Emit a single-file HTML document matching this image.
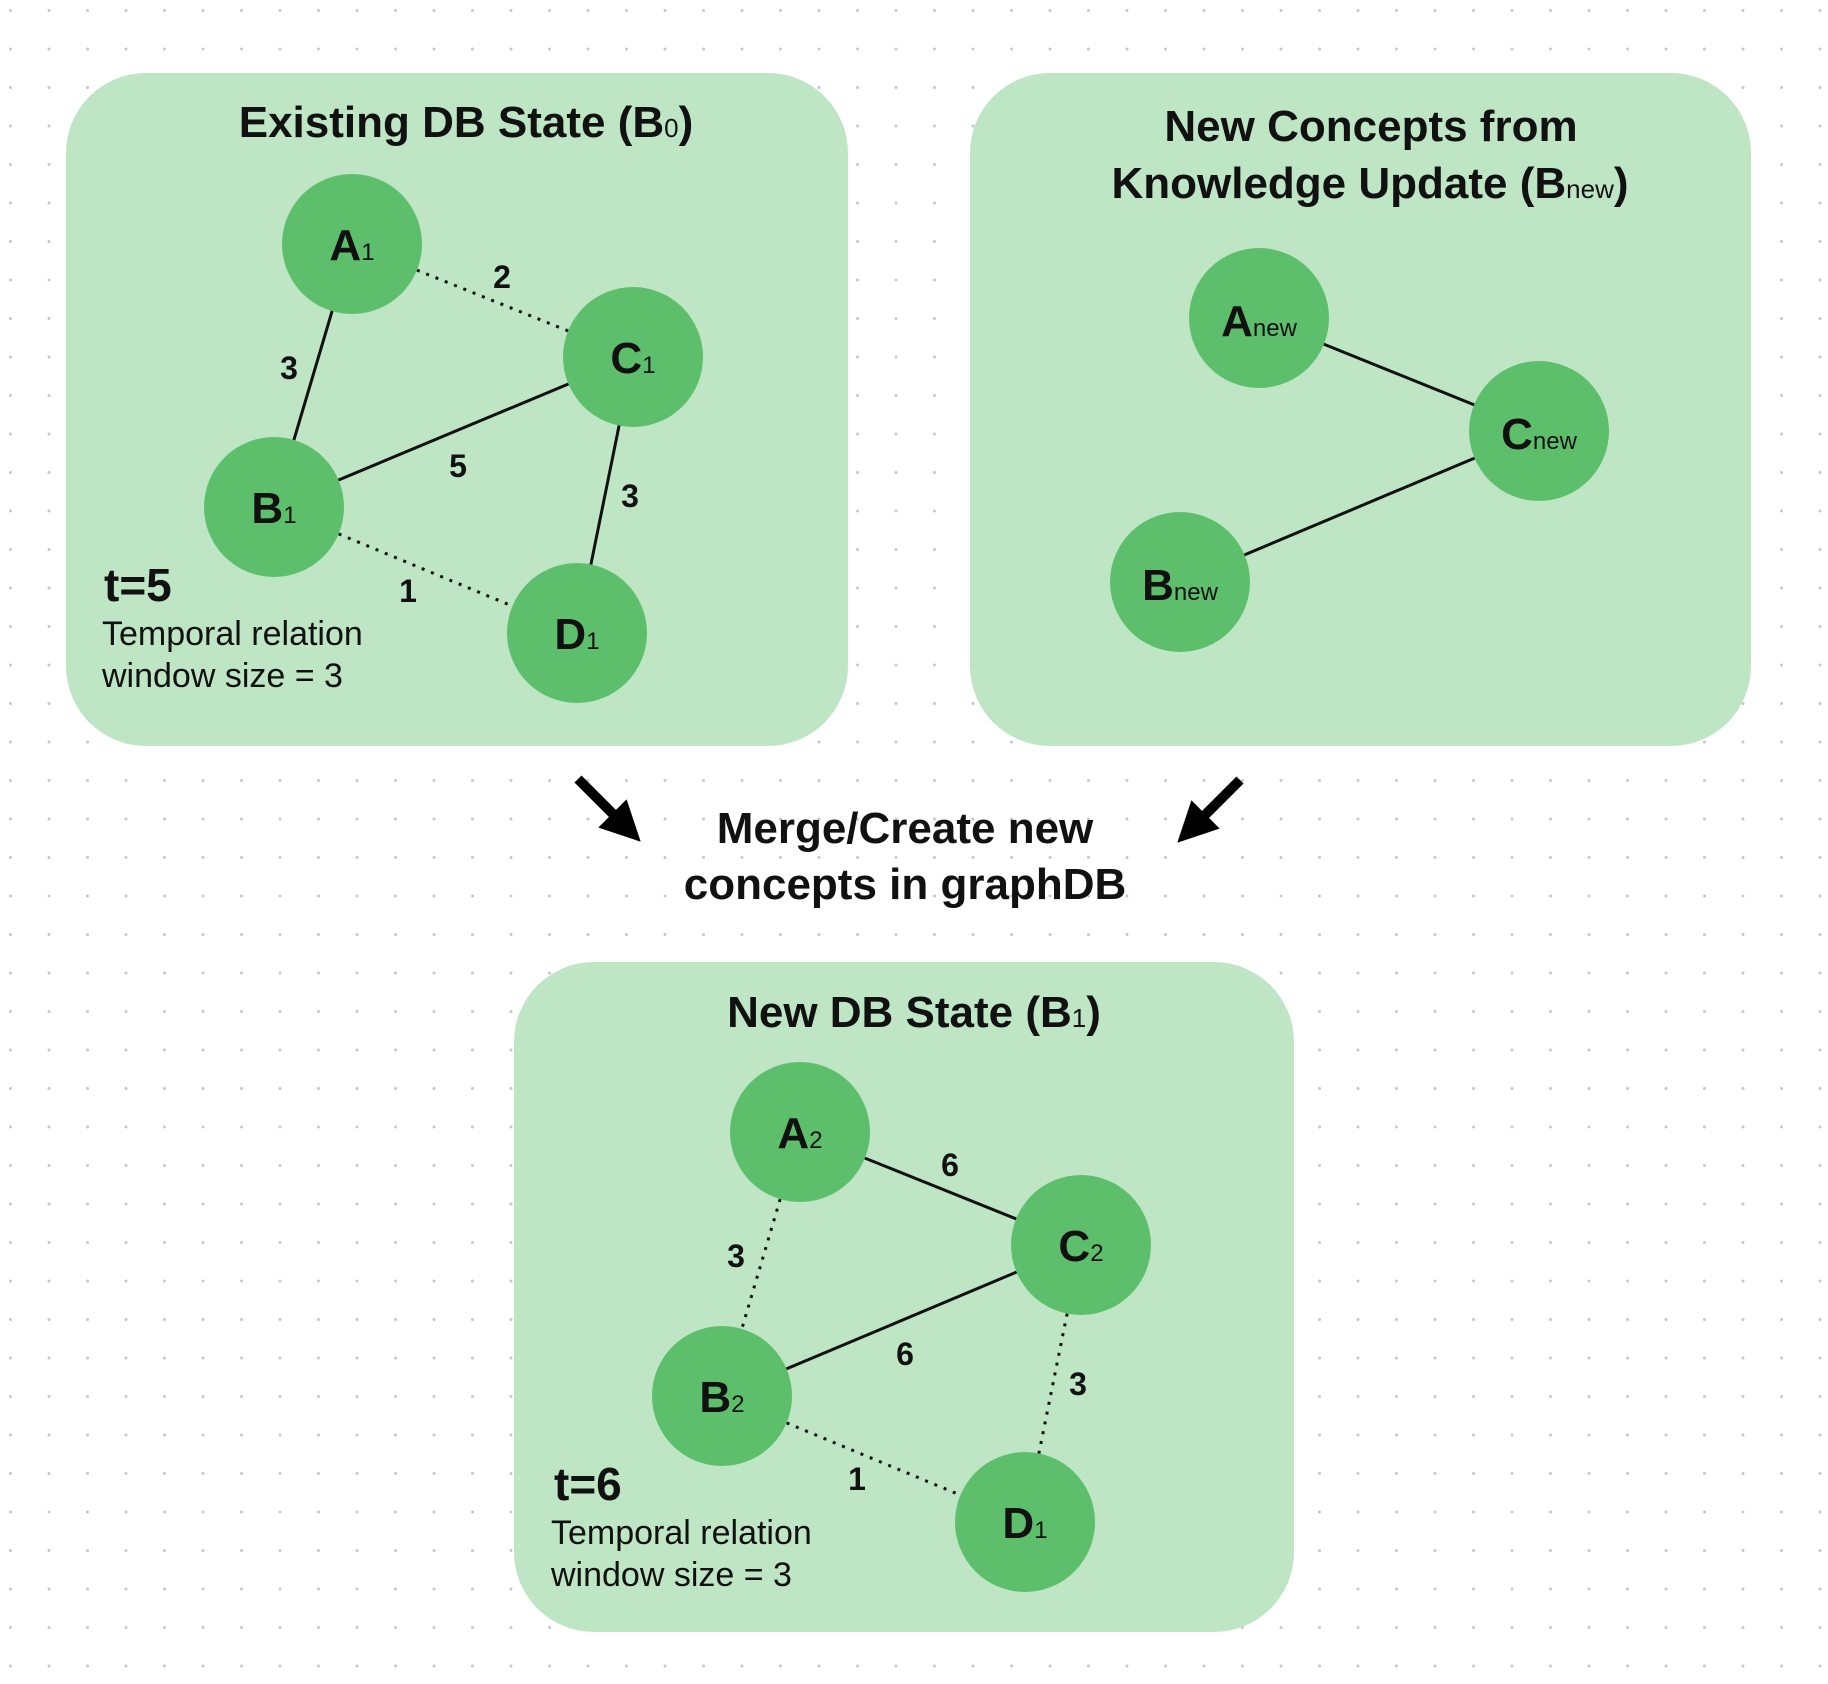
<!DOCTYPE html>
<html><head><meta charset="utf-8"><style>
html,body{margin:0;padding:0;background:#fff}
svg{display:block}
text{font-family:"Liberation Sans",Arial,sans-serif;fill:#111}
.t{font-weight:bold}
.n{font-weight:bold;font-size:44px}
.s{font-weight:normal;font-size:24px}
.e{font-weight:bold;font-size:32px}
.r{font-size:34px}
</style></head><body>
<svg width="1828" height="1684" viewBox="0 0 1828 1684" xmlns="http://www.w3.org/2000/svg">
<defs>
<pattern id="dots" x="9" y="9" width="38.5" height="38.5" patternUnits="userSpaceOnUse">
<circle cx="1.5" cy="1.5" r="1.5" fill="#c8c8c8"/>
</pattern>
<marker id="ah" markerWidth="4" markerHeight="4" refX="2.2" refY="2" orient="auto" markerUnits="strokeWidth">
<path d="M0,0 L4,2 L0,4 z" fill="#000"/>
</marker>
</defs>
<rect width="1828" height="1684" fill="#fff"/>
<rect width="1828" height="1684" fill="url(#dots)"/>
<!-- panels -->
<rect x="66" y="73" width="782" height="673" rx="80" fill="#b9e4c0" fill-opacity="0.93"/>
<rect x="970" y="73" width="781" height="673" rx="80" fill="#b9e4c0" fill-opacity="0.93"/>
<rect x="514" y="962" width="780" height="670" rx="80" fill="#b9e4c0" fill-opacity="0.93"/>

<!-- panel 1 edges -->
<g stroke="#111" stroke-width="3" fill="none">
<line x1="352" y1="244" x2="274" y2="507"/>
<line x1="274" y1="507" x2="633" y2="357"/>
<line x1="633" y1="357" x2="577" y2="633"/>
<line x1="352" y1="244" x2="633" y2="357" stroke-dasharray="3 7"/>
<line x1="274" y1="507" x2="577" y2="633" stroke-dasharray="3 7"/>
<!-- panel 2 -->
<line x1="1259" y1="318" x2="1539" y2="431"/>
<line x1="1180" y1="582" x2="1539" y2="431"/>
<!-- panel 3 -->
<line x1="800" y1="1132" x2="1081" y2="1245"/>
<line x1="722" y1="1396" x2="1081" y2="1245"/>
<line x1="800" y1="1132" x2="722" y2="1396" stroke-dasharray="3 7"/>
<line x1="1081" y1="1245" x2="1025" y2="1522" stroke-dasharray="3 7"/>
<line x1="722" y1="1396" x2="1025" y2="1522" stroke-dasharray="3 7"/>
</g>

<!-- nodes -->
<g fill="#5dbf6b">
<circle cx="352" cy="244" r="70"/>
<circle cx="633" cy="357" r="70"/>
<circle cx="274" cy="507" r="70"/>
<circle cx="577" cy="633" r="70"/>
<circle cx="1259" cy="318" r="70"/>
<circle cx="1539" cy="431" r="70"/>
<circle cx="1180" cy="582" r="70"/>
<circle cx="800" cy="1132" r="70"/>
<circle cx="1081" cy="1245" r="70"/>
<circle cx="722" cy="1396" r="70"/>
<circle cx="1025" cy="1522" r="70"/>
</g>

<!-- node labels -->
<g class="n" text-anchor="middle">
<text x="352" y="260" class="n">A<tspan class="s">1</tspan></text>
<text x="633" y="373" class="n">C<tspan class="s">1</tspan></text>
<text x="274" y="523" class="n">B<tspan class="s">1</tspan></text>
<text x="577" y="649" class="n">D<tspan class="s">1</tspan></text>
<text x="1259" y="336" class="n">A<tspan class="s">new</tspan></text>
<text x="1539" y="449" class="n">C<tspan class="s">new</tspan></text>
<text x="1180" y="600" class="n">B<tspan class="s">new</tspan></text>
<text x="800" y="1148" class="n">A<tspan class="s">2</tspan></text>
<text x="1081" y="1261" class="n">C<tspan class="s">2</tspan></text>
<text x="722" y="1412" class="n">B<tspan class="s">2</tspan></text>
<text x="1025" y="1538" class="n">D<tspan class="s">1</tspan></text>
</g>

<!-- edge labels -->
<g text-anchor="middle">
<text class="e" x="502" y="288">2</text>
<text class="e" x="289" y="379">3</text>
<text class="e" x="458" y="477">5</text>
<text class="e" x="630" y="507">3</text>
<text class="e" x="408" y="602">1</text>
<text class="e" x="950" y="1176">6</text>
<text class="e" x="736" y="1267">3</text>
<text class="e" x="905" y="1365">6</text>
<text class="e" x="1078" y="1395">3</text>
<text class="e" x="857" y="1490">1</text>
</g>

<!-- titles -->
<g text-anchor="middle">
<text class="t" x="466" y="137" font-size="44">Existing DB State (B<tspan font-size="26" font-weight="normal">0</tspan>)</text>
<text class="t" x="1371" y="141" font-size="44">New Concepts from</text>
<text class="t" x="1370" y="198" font-size="44">Knowledge Update (B<tspan font-size="26" font-weight="normal">new</tspan>)</text>
<text class="t" x="905" y="843" font-size="44">Merge/Create new</text>
<text class="t" x="905" y="899" font-size="44">concepts in graphDB</text>
<text class="t" x="914" y="1027" font-size="44">New DB State (B<tspan font-size="26" font-weight="normal">1</tspan>)</text>
</g>

<!-- time info -->
<text class="t" x="104" y="601" font-size="46">t=5</text>
<text class="r" x="102" y="645">Temporal relation</text>
<text class="r" x="102" y="687">window size = 3</text>
<text class="t" x="554" y="1500" font-size="46">t=6</text>
<text class="r" x="551" y="1544">Temporal relation</text>
<text class="r" x="551" y="1586">window size = 3</text>

<!-- arrows -->
<line x1="578" y1="779" x2="628" y2="829" stroke="#000" stroke-width="10" marker-end="url(#ah)"/>
<line x1="1240" y1="780" x2="1190" y2="830" stroke="#000" stroke-width="10" marker-end="url(#ah)"/>
</svg>
</body></html>
